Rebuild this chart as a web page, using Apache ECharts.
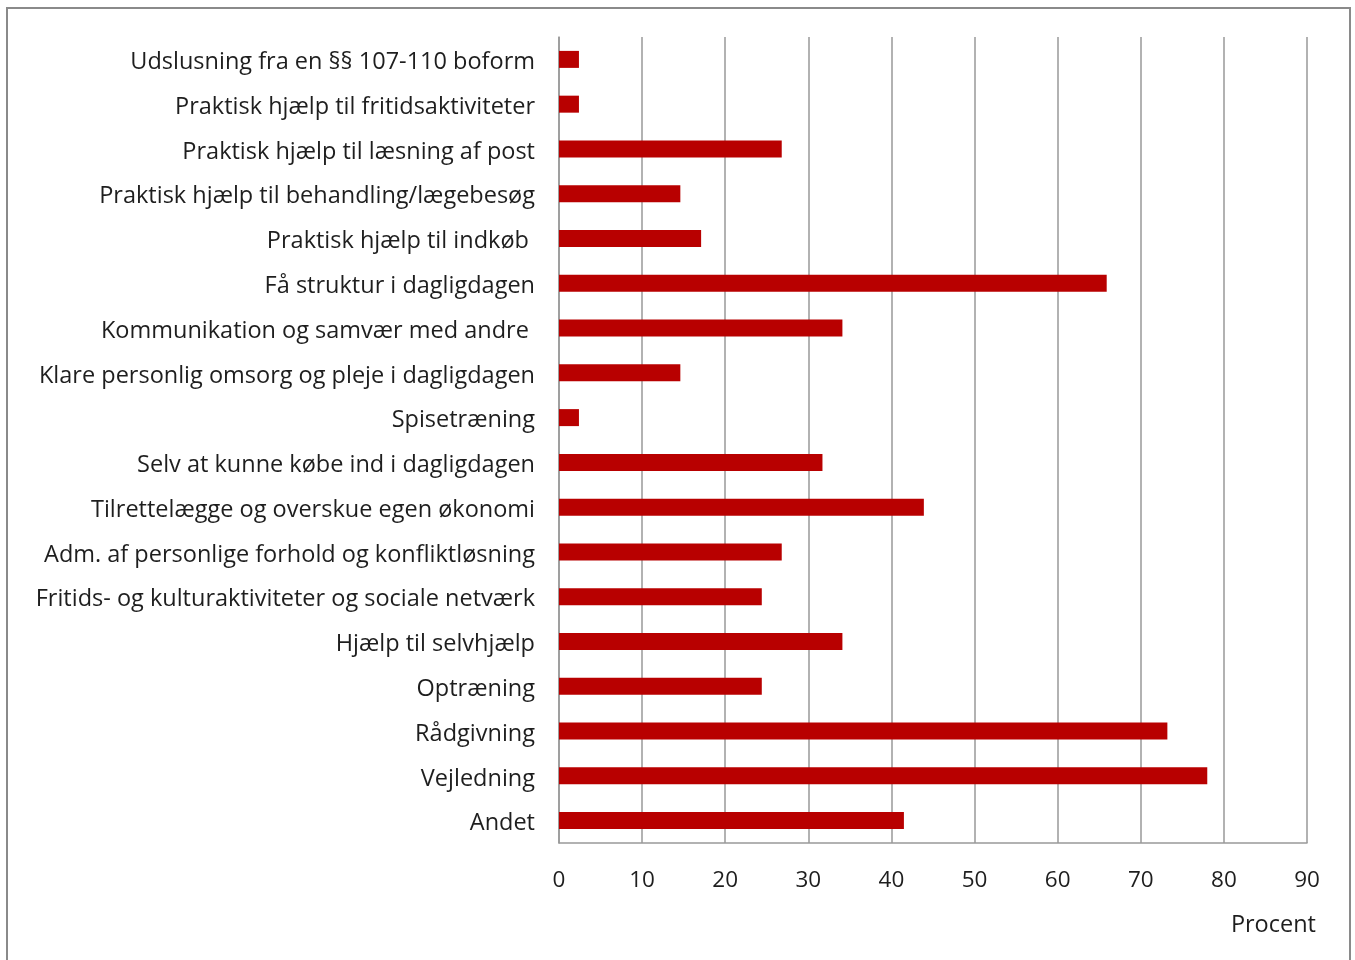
<!DOCTYPE html>
<html>
<head>
<meta charset="utf-8">
<script src="https://cdn.jsdelivr.net/npm/echarts@6/dist/echarts.min.js"></script>
<style>
  html, body { margin: 0; padding: 0; background: #fff; }
  #chart { width: 1355px; height: 960px; }
</style>
</head>
<body>
<div id="chart"></div>
<script>
// Categories listed top to bottom
const categories = [
  "Udslusning fra en §§ 107-110 boform",
  "Praktisk hjælp til fritidsaktiviteter",
  "Praktisk hjælp til læsning af post",
  "Praktisk hjælp til behandling/lægebesøg",
  "Praktisk hjælp til indkøb ",
  "Få struktur i dagligdagen",
  "Kommunikation og samvær med andre ",
  "Klare personlig omsorg og pleje i dagligdagen",
  "Spisetræning",
  "Selv at kunne købe ind i dagligdagen",
  "Tilrettelægge og overskue egen økonomi",
  "Adm. af personlige forhold og konfliktløsning",
  "Fritids- og kulturaktiviteter og sociale netværk",
  "Hjælp til selvhjælp",
  "Optræning",
  "Rådgivning",
  "Vejledning",
  "Andet"
];
// Percent of respondents, same order as categories
const percent = [
  2.4, 2.4, 26.8, 14.6, 17.1, 65.9, 34.1, 14.6, 2.4,
  31.7, 43.9, 26.8, 24.4, 34.1, 24.4, 73.2, 78.0, 41.5
];
const axisMax = 90;
const axisStep = 10;
const axisName = "Procent";

const chart = echarts.init(document.getElementById('chart'), null, { renderer: 'canvas' });
const font = '"Open Sans", Lato, sans-serif';

chart.setOption({
  animation: false,
  backgroundColor: '#ffffff',
  grid: { left: 559, right: 48, top: 37, bottom: 117, containLabel: false },
  xAxis: {
    type: 'value',
    min: 0,
    max: axisMax,
    interval: axisStep,
    axisLine: { show: true, lineStyle: { color: '#999999', width: 1.5 } },
    axisTick: { show: false },
    splitLine: { show: true, lineStyle: { color: '#999999', width: 1.5 } },
    axisLabel: { color: '#1e1e1e', fontFamily: font, fontSize: 22.5, margin: 26 }
  },
  yAxis: {
    type: 'category',
    inverse: true,
    data: categories,
    axisLine: { show: true, lineStyle: { color: '#999999', width: 1.5 } },
    axisTick: { show: false },
    axisLabel: {
      color: '#1e1e1e', fontFamily: font, fontSize: 23.5, margin: 24,
      interval: 0,
      formatter: (v) => '{c|' + v + '}',
      rich: {
        c: { color: '#1e1e1e', fontFamily: font, fontSize: 23.5, padding: [6, 0, 0, 0] }
      }
    }
  },
  graphic: [
    {
      type: 'rect',
      shape: { x: 7, y: 8, width: 1343, height: 980 },
      style: { fill: 'none', stroke: '#8a8a8a', lineWidth: 2 },
      silent: true
    },
    {
      type: 'text',
      right: 39,
      top: 913,
      style: { text: axisName, fill: '#1e1e1e', font: '23.5px ' + font }
    }
  ],
  series: [{
    type: 'bar',
    data: percent,
    barWidth: 17,
    itemStyle: { color: '#B80000' }
  }]
});
</script>
</body>
</html>
